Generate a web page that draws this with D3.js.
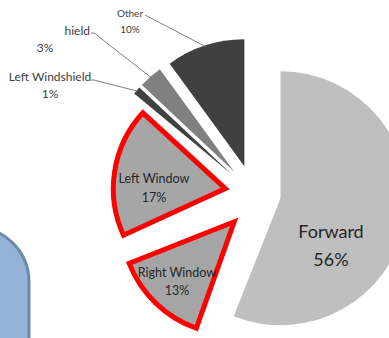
<!DOCTYPE html>
<html>
<head>
<meta charset="utf-8">
<script src="https://cdn.jsdelivr.net/npm/d3@7/dist/d3.min.js"></script>
<style>
  html, body { margin: 0; padding: 0; background: #ffffff; }
  svg { display: block; }
</style>
</head>
<body>
<svg id="chart" width="389" height="338"></svg>
<script>
// Share of detections by sensor zone, clockwise from 12 o'clock
const categories = ["Forward", "Right Window", "Left Window", "Left Windshield", "Right Windshield", "Other"];
const shares = [56, 13, 17, 1, 3, 10];
const percentLabels = ["56%", "13%", "17%", "1%", "3%", "10%"];

// Styling per slice
const fills = {
  "Forward": "#bfbfbf",
  "Right Window": "#a5a5a5",
  "Left Window": "#a6a6a6",
  "Left Windshield": "#404040",
  "Right Windshield": "#808080",
  "Other": "#404040"
};
const highlighted = {
  "Right Window": { radius: 113, shift: [1, 9], padStart: 2, padEnd: 0 },
  "Left Window": { radius: 112, shift: [0, 0], padStart: 3, padEnd: 3 }
};

const svg = d3.select("#chart");
const cx = 253, cy = 193, R = 127, explode = 28;
const deg = Math.PI / 180;

// Background shape peeking in from the lower left
svg.append("rect")
  .attr("x", -90).attr("y", 227)
  .attr("width", 119).attr("height", 220)
  .attr("rx", 55).attr("ry", 55)
  .attr("fill", "#95b3d7")
  .attr("stroke", "#6a8aab")
  .attr("stroke-width", 3);

const data = categories.map((c, i) => ({ name: c, value: shares[i], label: percentLabels[i] }));
const pie = d3.pie().sort(null).value(d => d.value).startAngle(0).endAngle(2 * Math.PI);
const arcs = pie(data);

const dir = a => [Math.sin(a), -Math.cos(a)];

function sliceOrigin(d) {
  const mid = (d.startAngle + d.endAngle) / 2;
  const [ux, uy] = dir(mid);
  const h = highlighted[d.data.name];
  const s = h ? h.shift : [0, 0];
  return [cx + ux * explode + s[0], cy + uy * explode + s[1]];
}

const g = svg.append("g");

arcs.forEach(d => {
  const h = highlighted[d.data.name];
  const [ox, oy] = sliceOrigin(d);
  const arc = d3.arc().innerRadius(0).outerRadius(h ? h.radius : R);
  const p0 = h ? h.padStart * deg : 0;
  const p1 = h ? h.padEnd * deg : 0;
  g.append("path")
    .attr("transform", `translate(${ox},${oy})`)
    .attr("d", arc({ startAngle: d.startAngle - p0, endAngle: d.endAngle + p1 }))
    .attr("fill", fills[d.data.name])
    .attr("stroke", h ? "#ff0000" : "none")
    .attr("stroke-width", h ? 5 : 0)
    .attr("stroke-linejoin", "miter");
});

const byName = {};
arcs.forEach(d => { byName[d.data.name] = d; });

// Labels drawn inside their slices
const insideLabels = {
  "Forward": { x: 331, y: 246, size: 18, gap: 28 },
  "Left Window": { x: 154, y: 188, size: 12.5, gap: 19 },
  "Right Window": { x: 177, y: 282, size: 12.5, gap: 18 }
};
Object.entries(insideLabels).forEach(([name, p]) => {
  const d = byName[name];
  const t = svg.append("text")
    .attr("text-anchor", "middle")
    .attr("font-family", "Lato, 'Open Sans', sans-serif")
    .attr("font-size", p.size)
    .attr("fill", "#262626");
  t.append("tspan").attr("x", p.x).attr("y", p.y - p.gap / 2).attr("dy", "0.35em").text(name);
  t.append("tspan").attr("x", p.x).attr("y", p.y + p.gap / 2).attr("dy", "0.35em").text(d.data.label);
});

// Labels outside the pie, joined to their slices by leader lines
const outsideLabels = {
  "Other": { x: 130, y: 13, pctY: 29, size: 10, lineFrom: [145, 15], elbow: null },
  "Right Windshield": { x: 90, anchor: "end", pctX: 45, y: 31, pctY: 48, size: 12, lineFrom: [91, 33], elbow: [94, 33], visibleTail: 5 },
  "Left Windshield": { x: 50, y: 77, pctY: 94, size: 12, lineFrom: [91, 80], elbow: [94, 80] }
};

const defs = svg.append("defs");

Object.entries(outsideLabels).forEach(([name, p]) => {
  const d = byName[name];
  const mid = (d.startAngle + d.endAngle) / 2;
  const [ox, oy] = sliceOrigin(d);
  const [ux, uy] = dir(mid);
  const end = [ox + ux * (R - 1), oy + uy * (R - 1)];
  const pts = [p.lineFrom];
  if (p.elbow) pts.push(p.elbow);
  pts.push(end);
  svg.append("path")
    .attr("d", d3.line()(pts))
    .attr("fill", "none")
    .attr("stroke", "#7f7f7f")
    .attr("stroke-width", 1);

  const nameText = svg.append("text")
    .attr("x", p.x).attr("y", p.y).attr("dy", "0.35em")
    .attr("text-anchor", p.anchor || "middle")
    .attr("font-family", "Lato, 'Open Sans', sans-serif")
    .attr("font-size", p.size)
    .attr("fill", "#404040")
    .text(name);

  // Only the tail of this label shows; the rest sits behind an overlapping object
  if (p.visibleTail) {
    const node = nameText.node();
    const n = name.length;
    const tailW = node.getSubStringLength(n - p.visibleTail, p.visibleTail);
    const id = "clip-" + name.replace(/\s+/g, "-");
    defs.append("clipPath").attr("id", id)
      .append("rect").attr("x", p.x - tailW - 0.5).attr("y", p.y - 12)
      .attr("width", tailW + 20).attr("height", 24);
    nameText.attr("clip-path", `url(#${id})`);
  }

  svg.append("text")
    .attr("x", p.pctX !== undefined ? p.pctX : p.x).attr("y", p.pctY).attr("dy", "0.35em")
    .attr("text-anchor", "middle")
    .attr("font-family", "Lato, 'Open Sans', sans-serif")
    .attr("font-size", p.size)
    .attr("fill", "#404040")
    .text(d.data.label);
});
</script>
</body>
</html>
